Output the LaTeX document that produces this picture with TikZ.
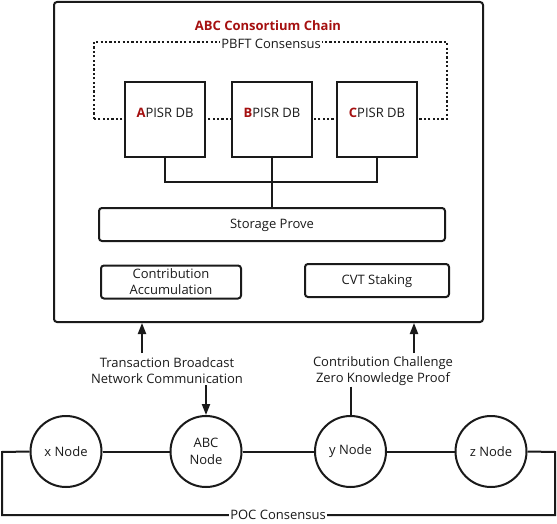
\documentclass[tikz,border=0pt]{standalone}
\usepackage{fontspec}
\setmainfont{Open Sans}
\usetikzlibrary{arrows.meta}
\definecolor{ink}{HTML}{1A1A1A}
\definecolor{darkred}{HTML}{A51010}
\tikzset{
  every node/.style={font=\fontsize{13}{15}\selectfont, text=ink},
  ln/.style={draw=ink, line width=2pt},
  dbbox/.style={ln, fill=white, minimum width=80pt, minimum height=75pt, inner sep=0pt, text height=9pt, text depth=13pt},
  rbox/.style={ln, rounded corners=3pt, minimum height=33pt, inner sep=0pt, align=center},
  circ/.style={ln, circle, minimum size=71pt, inner sep=0pt, align=center, fill=white},
  arr/.style={ln, -{Triangle[length=11pt,width=8pt]}},
  dotln/.style={draw=ink, line width=2pt, dash pattern=on 2.2pt off 2.2pt},
  lbl/.style={align=center, inner sep=1pt, font=\fontsize{13}{16}\selectfont}
}
\begin{document}
\begin{tikzpicture}[x=1pt,y=-1pt]
\useasboundingbox (0,0) rectangle (557,524);
% outer chain box
\node[ln, rounded corners=3pt, minimum width=429pt, minimum height=320pt, inner sep=0pt] (chain) at (268.5,162) {};
\node[text=darkred, font=\bfseries\fontsize{13}{15}\selectfont] (title) at (268,26) {ABC Consortium Chain};
% PBFT dotted loop
\draw[dotln] (94,119) -- (94,42) -- (447,42) -- (447,119) -- cycle;
\node[fill=white, inner sep=1pt] (pbft) at (271,44) {PBFT Consensus};
% DB boxes
\node[dbbox] (A) at (165,119.5) {\textcolor{darkred}{\bfseries A}PISR DB};
\node[dbbox] (B) at (272,119.5) {\textcolor{darkred}{\bfseries B}PISR DB};
\node[dbbox] (C) at (377,119.5) {\textcolor{darkred}{\bfseries C}PISR DB};
% storage prove
\node[rbox, minimum width=346pt, text height=9pt, text depth=1pt] (SP) at (272,224.5) {Storage Prove};
\coordinate (j) at (272,182);
\draw[ln] (A.south) |- (j) -| (C.south);
\draw[ln] (B.south) -- (SP.north);
% lower boxes
\node[rbox, minimum width=140pt, font=\fontsize{13}{16}\selectfont] (CA) at (171,282) {Contribution\\Accumulation};
\node[rbox, minimum width=144pt, text height=9pt, text depth=1pt] (CVT) at (377,280.5) {CVT Staking};
% labels
\node[lbl] (l1) at (167,371) {Transaction Broadcast\\Network Communication};
\node[lbl] (l2) at (383,371) {Contribution Challenge\\Zero Knowledge Proof};
% circles
\node[circ] (xn) at (66,451.5) {x Node};
\node[circ, font=\fontsize{13}{17}\selectfont] (abc) at (206,451.5) {ABC\\Node};
\node[circ] (yn) at (350.5,451.5) {y Node};
\node[circ] (zn) at (491,451.5) {z Node};
% arrows to chain
\coordinate (a1) at (142,353);
\coordinate (a2) at (414,353);
\draw[arr] (a1) -- (a1 |- chain.south);
\draw[arr] (a2) -- (a2 |- chain.south);
\draw[arr] (l1.south -| abc) -- (abc.north);
\draw[ln] (l2.south -| yn) -- (yn.north);
% POC chain
\draw[ln] (xn) -- (abc) -- (yn) -- (zn);
\coordinate (L) at (2,452);
\coordinate (R) at (555,452);
\coordinate (Lb) at (2,515);
\coordinate (Rb) at (555,515);
\draw[ln] (xn.west) -- (L) -- (Lb) -- (Rb) -- (R) -- (zn.east);
\node[fill=white, inner sep=1pt] (poc) at (278,515) {POC Consensus};
\end{tikzpicture}
\end{document}
